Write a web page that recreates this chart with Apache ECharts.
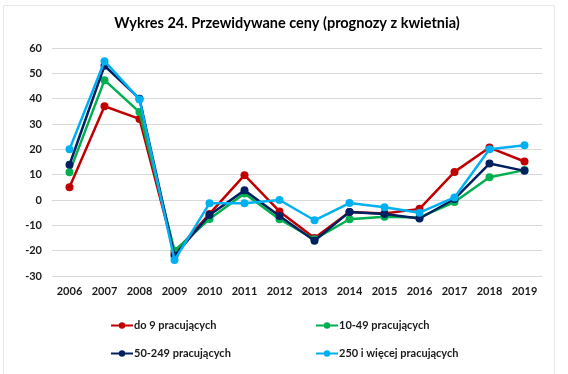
<!DOCTYPE html>
<html>
<head>
<meta charset="utf-8">
<script src="https://cdn.jsdelivr.net/npm/echarts@6/dist/echarts.min.js"></script>
<style>html,body{margin:0;padding:0;background:#fff;}#c{width:568px;height:374px;}</style>
</head>
<body>
<div id="c"></div>
<script>
const years = ['2006','2007','2008','2009','2010','2011','2012','2013','2014','2015','2016','2017','2018','2019'];
const seriesNames = ['do 9 pracujących','10-49 pracujących','50-249 pracujących','250 i więcej pracujących'];
const do9 =    [5, 37, 32, -21, -5.5, 9.8, -4.5, -15, -4.7, -5.3, -3.5, 11.1, 20.7, 15.2];
const s10_49 = [11, 47.3, 34.7, -20, -7.5, 2.6, -7.6, -15.5, -7.6, -6.6, -6.9, -0.8, 9, 11.8];
const s50_249 =[13.9, 53, 40, -22, -5.9, 3.8, -6.3, -16.1, -4.7, -5.5, -7.3, 0.4, 14.4, 11.5];
const s250 =   [20, 54.8, 39.7, -23.7, -1.3, -1.3, 0, -8, -1.2, -2.9, -5, 1, 20, 21.6];
const colors = ['#C00000', '#00B050', '#002060', '#00B0F0'];
const values = [do9, s10_49, s50_249, s250];

const chart = echarts.init(document.getElementById('c'));
const font = 'Lato, "Liberation Sans", sans-serif';
const legendPos = [[110, 320], [315, 320], [110, 348], [315, 348]];
chart.setOption({
  animation: false,
  backgroundColor: '#fff',
  textStyle: { fontFamily: font },
  title: {
    text: 'Wykres 24. Przewidywane ceny (prognozy z kwietnia)',
    left: 282, textAlign: 'center', top: 11,
    textStyle: { fontSize: 14.5, fontWeight: 'bold', color: '#000', fontFamily: font }
  },
  graphic: [{
    type: 'rect', shape: { x: 3.5, y: 5.5, width: 551, height: 370 },
    style: { fill: 'none', stroke: '#e6e6e6', lineWidth: 1 }, silent: true
  }],
  legend: seriesNames.map((n, i) => ({
    data: [n], left: legendPos[i][0], top: legendPos[i][1],
    itemWidth: 22, itemHeight: 8, itemGap: 2, padding: 0,
    textStyle: { fontSize: 11, fontWeight: 'bold', color: '#1a1a1a', fontFamily: font, padding: [0, 0, 0, -4] }
  })),
  grid: { left: 52, right: 26, top: 48, bottom: 98 },
  xAxis: {
    type: 'category', data: years, boundaryGap: true,
    axisLine: { show: true, lineStyle: { color: '#d9d9d9' } },
    axisTick: { show: false },
    axisLabel: { fontSize: 11, fontWeight: 'bold', color: '#1a1a1a', margin: 10, fontFamily: font }
  },
  yAxis: {
    type: 'value', min: -30, max: 60, interval: 10,
    axisLine: { show: false }, axisTick: { show: false },
    axisLabel: { fontSize: 11, fontWeight: 'bold', color: '#1a1a1a', margin: 10, fontFamily: font },
    splitLine: { lineStyle: { color: '#d9d9d9', width: 1 } }
  },
  series: seriesNames.map((n, i) => ({
    name: n, type: 'line', data: values[i],
    symbol: 'circle', symbolSize: 8,
    lineStyle: { color: colors[i], width: 2.5 },
    itemStyle: { color: colors[i] },
    z: 2 + i
  }))
});
</script>
</body>
</html>
